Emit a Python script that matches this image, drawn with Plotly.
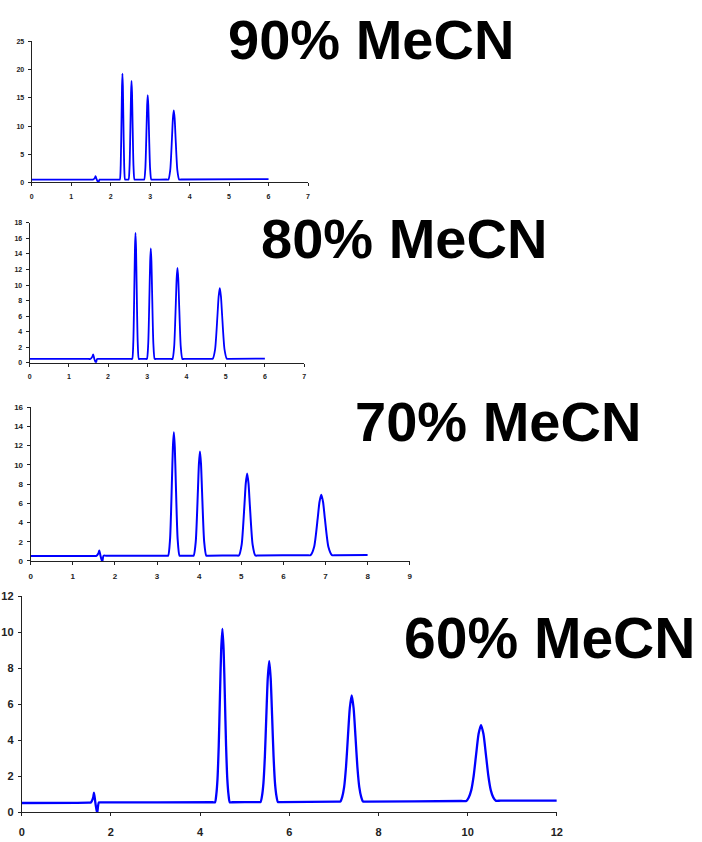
import plotly.graph_objects as go

W, H = 702, 842

# ---------------- data ----------------
# 90% MeCN
t90 = [0.0, 1.50, 1.55, 1.60, 1.62, 1.65, 1.69, 1.72, 1.78,
       2.212, 2.234, 2.256, 2.278, 2.289, 2.300, 2.311, 2.322, 2.344, 2.366, 2.388,
       2.430, 2.455, 2.480, 2.505, 2.5175, 2.530, 2.5425, 2.555, 2.580, 2.605, 2.630,
       2.820, 2.850, 2.880, 2.910, 2.925, 2.940, 2.955, 2.970, 3.000, 3.030, 3.060,
       3.420, 3.465, 3.510, 3.555, 3.5775, 3.600, 3.6225, 3.645, 3.690, 3.735, 3.780,
       6.0]
s90 = [0.50, 0.50, 0.50, 0.80, 1.10, 0.50, 0.00, 0.50, 0.50,
       0.50, 0.50, 3.04, 11.97, 17.04, 19.30, 17.04, 11.97, 3.04, 0.50, 0.50,
       0.50, 0.50, 2.86, 11.18, 15.90, 18.00, 15.90, 11.18, 2.86, 0.50, 0.50,
       0.50, 0.50, 2.53, 9.65, 13.70, 15.50, 13.70, 9.65, 2.53, 0.50, 0.50,
       0.52, 0.52, 2.18, 8.02, 11.34, 12.80, 11.34, 8.02, 2.18, 0.52, 0.52,
       0.60]

# 80% MeCN
t80 = [0.0, 1.50, 1.55, 1.60, 1.62, 1.65, 1.69, 1.72, 1.78,
       2.588, 2.616, 2.644, 2.672, 2.686, 2.700, 2.714, 2.728, 2.756, 2.784, 2.812,
       2.958, 2.991, 3.024, 3.057, 3.0735, 3.090, 3.1065, 3.123, 3.156, 3.189, 3.222,
       3.602, 3.644, 3.686, 3.728, 3.749, 3.770, 3.791, 3.812, 3.854, 3.896, 3.938,
       4.610, 4.670, 4.730, 4.790, 4.820, 4.850, 4.880, 4.910, 4.970, 5.030, 5.090,
       6.0]
s80 = [0.50, 0.50, 0.50, 0.80, 1.10, 0.50, 0.00, 0.50, 0.50,
       0.50, 0.50, 2.69, 10.38, 14.76, 16.70, 14.76, 10.38, 2.69, 0.50, 0.50,
       0.50, 0.50, 2.42, 9.16, 13.00, 14.70, 13.00, 9.16, 2.42, 0.50, 0.50,
       0.50, 0.50, 2.08, 7.64, 10.80, 12.20, 10.80, 7.64, 2.08, 0.50, 0.50,
       0.52, 0.52, 1.73, 6.05, 8.51, 9.60, 8.51, 6.05, 1.73, 0.52, 0.52,
       0.55]

# 70% MeCN
t70 = [0.0, 1.51, 1.56, 1.61, 1.63, 1.66, 1.70, 1.73, 1.79,
       3.220, 3.265, 3.310, 3.355, 3.3775, 3.400, 3.4225, 3.445, 3.490, 3.535, 3.580,
       3.820, 3.870, 3.920, 3.970, 3.995, 4.020, 4.045, 4.070, 4.120, 4.170, 4.220,
       4.880, 4.945, 5.010, 5.075, 5.1075, 5.140, 5.1725, 5.205, 5.270, 5.335, 5.400,
       6.560, 6.645, 6.730, 6.815, 6.8575, 6.900, 6.9425, 6.985, 7.070, 7.155, 7.240,
       8.0]
s70 = [0.52, 0.52, 0.52, 0.80, 1.10, 0.52, -0.10, 0.55, 0.55,
       0.55, 0.55, 2.28, 8.39, 11.86, 13.40, 11.86, 8.39, 2.28, 0.55, 0.55,
       0.55, 0.55, 2.01, 7.17, 10.10, 11.40, 10.10, 7.17, 2.01, 0.55, 0.55,
       0.57, 0.57, 1.70, 5.77, 8.07, 9.10, 8.07, 5.77, 1.70, 0.57, 0.57,
       0.60, 0.60, 1.45, 4.44, 6.14, 6.90, 6.14, 4.44, 1.45, 0.60, 0.60,
       0.62]

# 60% MeCN
t60 = [0.0, 1.50, 1.55, 1.60, 1.62, 1.65, 1.69, 1.73, 1.79,
       4.280, 4.335, 4.3625, 4.390, 4.4175, 4.445, 4.4725, 4.500, 4.5275, 4.555, 4.5825, 4.610, 4.6375, 4.665, 4.720,
       5.290, 5.355, 5.3875, 5.420, 5.4525, 5.485, 5.5175, 5.550, 5.5825, 5.615, 5.6475, 5.680, 5.7125, 5.745, 5.810,
       7.060, 7.145, 7.1875, 7.230, 7.2725, 7.315, 7.3575, 7.400, 7.4425, 7.485, 7.5275, 7.570, 7.6125, 7.655, 7.740,
       9.860, 9.970, 10.025, 10.080, 10.135, 10.190, 10.245, 10.300, 10.355, 10.410, 10.465, 10.520, 10.575, 10.630, 10.740,
       12.0]
s60 = [0.52, 0.54, 0.55, 0.80, 1.10, 0.55, -0.05, 0.55, 0.55,
       0.56, 0.56, 0.97, 1.85, 3.69, 6.44, 9.04, 10.20, 9.04, 6.44, 3.69, 1.85, 0.97, 0.56, 0.56,
       0.57, 0.57, 0.90, 1.61, 3.10, 5.34, 7.46, 8.40, 7.46, 5.34, 3.10, 1.61, 0.90, 0.57, 0.57,
       0.60, 0.60, 0.86, 1.40, 2.52, 4.20, 5.79, 6.50, 5.79, 4.20, 2.52, 1.40, 0.86, 0.60, 0.60,
       0.63, 0.63, 0.83, 1.22, 2.02, 3.21, 4.35, 4.85, 4.35, 3.21, 2.02, 1.22, 0.83, 0.65, 0.65,
       0.65]

titles = ["90% MeCN", "80% MeCN", "70% MeCN", "60% MeCN"]
xmax = [7, 7, 9, 12]
xdtick = [1, 1, 1, 2]
ymax = [25, 18, 16, 12]
ydtick = [5, 2, 2, 2]
series = [(t90, s90), (t80, s80), (t70, s70), (t60, s60)]

# ---------------- layout (pixel boxes) ----------------
boxes = [  # x0, x1, ytop, ybottom
    (29, 309, 36, 179),
    (27, 305, 220, 362),
    (28, 412, 407, 563),
    (19, 561, 599, 818),
]
tick_sizes = [7, 7, 8, 11]
x_standoff = [4, 4, 4, 6]
line_w = [1.8, 1.8, 2.0, 2.3]
title_pos = [(372.5, 33.5), (406, 235.5), (501, 422), (553.5, 641.5)]
title_size = [56, 56, 56, 57]

fig = go.Figure()
layout = dict(
    width=W, height=H, margin=dict(l=0, r=0, t=0, b=0),
    paper_bgcolor="white", plot_bgcolor="white", showlegend=False,
)
annotations = []
for i, (tx, sy) in enumerate(series):
    xa = "xaxis" if i == 0 else f"xaxis{i+1}"
    ya = "yaxis" if i == 0 else f"yaxis{i+1}"
    xr = "x" if i == 0 else f"x{i+1}"
    yr = "y" if i == 0 else f"y{i+1}"
    fig.add_trace(go.Scatter(x=tx, y=sy, mode="lines", xaxis=xr, yaxis=yr,
                             line=dict(color="#0000ff", width=line_w[i],
                                       shape="spline", smoothing=0.6),
                             hoverinfo="skip"))
    x0, x1, yt, yb = boxes[i]
    fs = tick_sizes[i]
    layout[xa] = dict(
        domain=[x0 / W, x1 / W], anchor=yr, range=[0, xmax[i]], dtick=xdtick[i],
        tick0=0, showgrid=False, zeroline=False, showline=True, linecolor="#222",
        linewidth=1, ticks="outside", ticklen=3, tickcolor="#222",
        ticklabelstandoff=x_standoff[i],
        tickfont=dict(family="Liberation Sans", size=fs, color="#222", weight="bold"),
    )
    layout[ya] = dict(
        domain=[1 - yb / H, 1 - yt / H], anchor=xr, range=[0, ymax[i]], dtick=ydtick[i],
        tick0=0, showgrid=False, zeroline=False, showline=True, linecolor="#222",
        linewidth=1, ticks="outside", ticklen=3, tickcolor="#222",
        ticklabelstandoff=2,
        tickfont=dict(family="Liberation Sans", size=fs, color="#222", weight="bold"),
    )
    cx, cy = title_pos[i]
    annotations.append(dict(
        text=titles[i], xref="paper", yref="paper", x=cx / W, y=1 - cy / H,
        xanchor="center", yanchor="middle", showarrow=False,
        font=dict(family="Liberation Sans", size=title_size[i], color="black", weight="bold"),
    ))
layout["annotations"] = annotations
fig.update_layout(**layout)
fig.write_html("out.html")
